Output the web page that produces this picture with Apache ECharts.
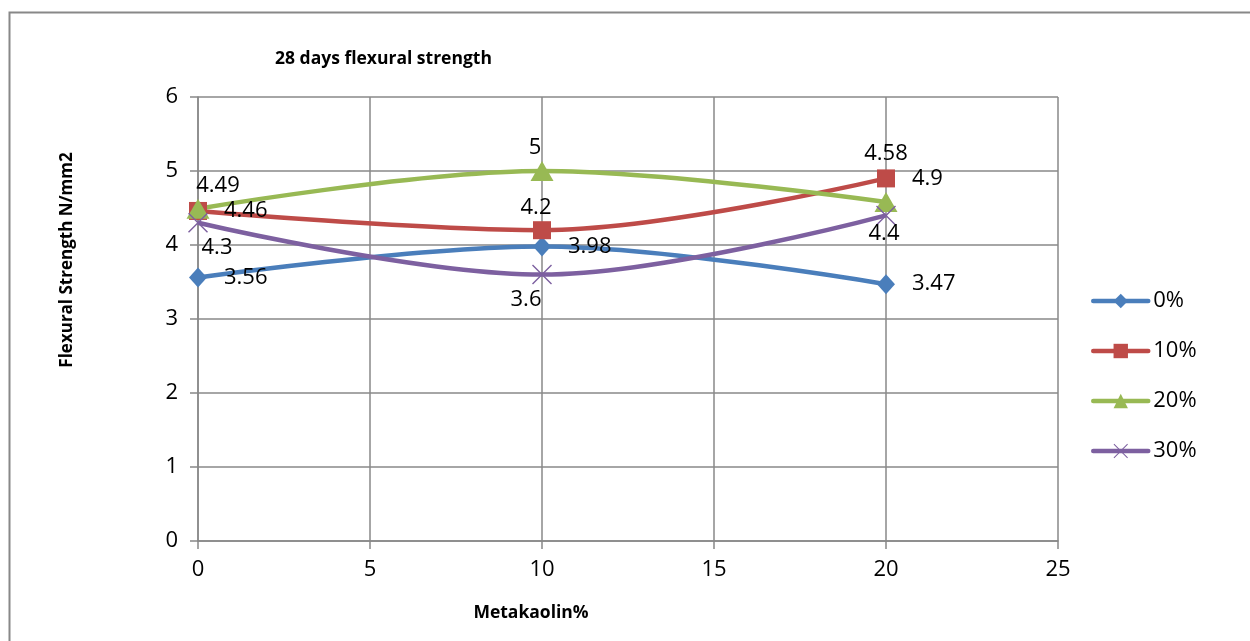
<!DOCTYPE html>
<html>
<head>
<meta charset="utf-8">
<script src="https://cdn.jsdelivr.net/npm/echarts@6/dist/echarts.min.js"></script>
<style>
  html, body { margin: 0; padding: 0; background: #fff; }
  #chart { width: 1250px; height: 641px; }
</style>
</head>
<body>
<div id="chart"></div>
<script>
// Flexural strength at 28 days for each metakaolin content
const xValues = [0, 10, 20];
const seriesNames = ['0%', '10%', '20%', '30%'];
const values0 = [3.56, 3.98, 3.47];
const values10 = [4.46, 4.2, 4.9];
const values20 = [4.49, 5, 4.58];
const values30 = [4.3, 3.6, 4.4];

const titleText = '28 days flexural strength';
const xName = 'Metakaolin%';
const yName = 'Flexural Strength N/mm2';

// Where each value label sits around its point
const labelPlaces = [
  ['right', 'right', 'right'],
  ['right', 'top', 'right'],
  ['top', 'top', 'top'],
  ['bottom', 'bottom', 'bottom']
];
const labelShifts = [
  [[0, 0], [0, 0], [0, 0]],
  [[0, 0], [-6, 0], [0, 0]],
  [[20, 0], [-7, 0], [0, -25]],
  [[19, 0], [-16, 0], [-2, -7]]
];

const colors = ['#4A7EBB', '#BE4B48', '#98B954', '#7D60A0'];
const symbols = [
  'diamond',
  'rect',
  'triangle',
  'path://M0,1L1,0L10,9L19,0L20,1L11,10L20,19L19,20L10,11L1,20L0,19L9,10Z'
];
const symbolSizes = [[18, 20], 18, [23, 20], 20];
const FONT = 'Open Sans';

function buildData(values, s) {
  return values.map((v, i) => {
    const place = labelPlaces[s][i];
    let dist = 17;
    if (place === 'top') dist = 2;
    if (place === 'bottom') dist = 4;
    return {
      value: [xValues[i], v],
      label: {
        position: place,
        distance: dist,
        offset: labelShifts[s][i]
      }
    };
  });
}

const allValues = [values0, values10, values20, values30];

const series = allValues.map((vals, s) => ({
  name: seriesNames[s],
  type: 'line',
  smooth: 0.35,
  data: buildData(vals, s),
  symbol: symbols[s],
  symbolSize: symbolSizes[s],
  lineStyle: { color: colors[s], width: 4.5 },
  itemStyle: { color: colors[s] },
  label: {
    show: true,
    color: '#000',
    fontFamily: FONT,
    fontSize: 22,
    formatter: p => String(p.value[1])
  },
  emphasis: { disabled: true }
}));

const chart = echarts.init(document.getElementById('chart'), null, { renderer: 'canvas' });

chart.setOption({
  animation: false,
  backgroundColor: '#fff',
  title: {
    text: titleText,
    left: 270,
    top: 45,
    textStyle: { fontFamily: FONT, fontSize: 17.5, fontWeight: 'bold', color: '#000' }
  },
  grid: { left: 198, right: 192, top: 97, bottom: 100 },
  xAxis: {
    type: 'value',
    min: 0,
    max: 25,
    interval: 5,
    axisLine: { show: true, lineStyle: { color: '#888', width: 1.5 } },
    axisTick: { show: true, length: 8, lineStyle: { color: '#888', width: 1.5 } },
    splitLine: { show: true, lineStyle: { color: '#888', width: 1.5 } },
    axisLabel: { color: '#000', fontFamily: FONT, fontSize: 22, margin: 18 }
  },
  yAxis: {
    type: 'value',
    min: 0,
    max: 6,
    interval: 1,
    axisLine: { show: true, lineStyle: { color: '#888', width: 1.5 } },
    axisTick: { show: true, length: 8, lineStyle: { color: '#888', width: 1.5 } },
    splitLine: { show: true, lineStyle: { color: '#888', width: 1.5 } },
    axisLabel: { color: '#000', fontFamily: FONT, fontSize: 22, margin: 20 }
  },
  legend: {
    orient: 'vertical',
    left: 1086,
    top: 285,
    itemWidth: 55,
    itemHeight: 18,
    itemGap: 28,
    data: seriesNames,
    lineStyle: { width: 4.5, cap: 'round' },
    textStyle: { color: '#000', fontFamily: FONT, fontSize: 22, lineHeight: 22 }
  },
  graphic: [
    {
      type: 'rect',
      left: 7,
      top: 10,
      shape: { width: 1300, height: 700 },
      style: { fill: null, stroke: '#888', lineWidth: 2 },
      silent: true,
      z: -1
    },
    {
      type: 'text',
      x: 531,
      y: 613,
      style: {
        text: xName,
        fontFamily: FONT,
        fontSize: 17.5,
        fontWeight: 'bold',
        fill: '#000',
        align: 'center',
        verticalAlign: 'middle'
      }
    },
    {
      type: 'text',
      x: 67,
      y: 260,
      rotation: Math.PI / 2,
      style: {
        text: yName,
        fontFamily: FONT,
        fontSize: 17,
        fontWeight: 'bold',
        fill: '#000',
        align: 'center',
        verticalAlign: 'middle'
      }
    }
  ],
  series: series
});
</script>
</body>
</html>
